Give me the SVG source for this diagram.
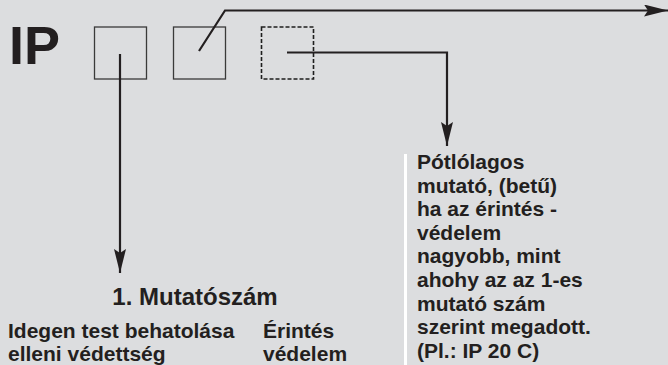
<svg xmlns="http://www.w3.org/2000/svg" width="668" height="365" viewBox="0 0 668 365">
<defs>
<style>
.bg{fill:#dcdddf}
.box{fill:none;stroke:#3a3a3a;stroke-width:1.3}
.dash{stroke:#1e1e1e;stroke-width:1.6;stroke-dasharray:4 2}
.con{fill:none;stroke:#231f20;stroke-width:2.2}
.t{font-family:"Liberation Sans",Arial,sans-serif;font-weight:bold;fill:#231f20}
.b{font-size:21px}
</style>
<marker id="ah" viewBox="0 0 24 12" refX="24" refY="6" markerUnits="userSpaceOnUse" markerWidth="24" markerHeight="12" orient="auto">
<path d="M0,0 L24,6 L0,12 L4,6 Z" fill="#231f20"/>
</marker>
</defs>
<rect class="bg" x="0" y="0" width="668" height="365"/>
<g id="ip"><text class="t" x="9" y="64" font-size="54">IP</text></g>
<g id="box1"><rect class="box" x="94.5" y="27" width="52" height="52"/></g>
<g id="box2"><rect class="box" x="173.5" y="27" width="52" height="52"/></g>
<g id="box3"><rect class="box dash" x="261.5" y="27" width="52" height="52"/></g>
<g id="connectors">
<path class="con" d="M120,54 V273" marker-end="url(#ah)"/>
<path class="con" d="M199,51 L225,10.5 H668" marker-end="url(#ah)"/>
<path class="con" d="M287,52.5 H447 V146" marker-end="url(#ah)"/>
</g>
<g id="label1">
<text class="t" x="195" y="305" font-size="24" text-anchor="middle">1. Mutatószám</text>
<text class="t b" x="8" y="338">Idegen test behatolása</text>
<text class="t b" x="8" y="361">elleni védettség</text>
<text class="t b" x="263" y="338">Érintés</text>
<text class="t b" x="263" y="361">védelem</text>
</g>
<g id="label3">
<rect x="404" y="154" width="3" height="211" fill="#ffffff"/>
<text class="t b" x="417">
<tspan x="417" y="169">Pótlólagos</tspan>
<tspan x="417" y="192.6">mutató, (betű)</tspan>
<tspan x="417" y="216.2">ha az érintés -</tspan>
<tspan x="417" y="239.8">védelem</tspan>
<tspan x="417" y="263.4">nagyobb, mint</tspan>
<tspan x="417" y="287">ahohy az az 1-es</tspan>
<tspan x="417" y="310.6">mutató szám</tspan>
<tspan x="417" y="334.2">szerint megadott.</tspan>
<tspan x="417" y="357.8">(Pl.: IP 20 C)</tspan>
</text>
</g>
</svg>
